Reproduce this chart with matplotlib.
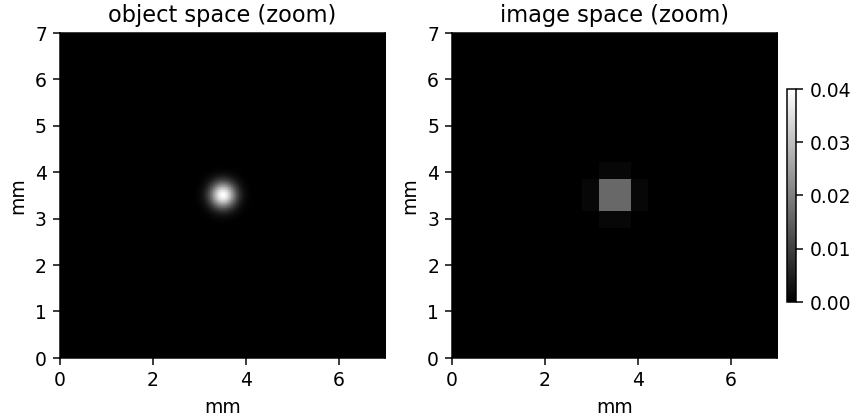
import numpy as np
import matplotlib
matplotlib.use("Agg")
import matplotlib.pyplot as plt

# ---- data ----
titles = ["object space (zoom)", "image space (zoom)"]
axis_label = "mm"
extent_mm = 7.0
ticks = [0, 2, 4, 6]
yticks = [0, 1, 2, 3, 4, 5, 6, 7]
cbar_ticks = [0.00, 0.01, 0.02, 0.03, 0.04]
vmin, vmax = 0.0, 0.04

# object space: a small Gaussian spot
obj_center = (3.5, 3.5)      # mm
obj_sigma = 0.195            # mm
obj_peak = 0.04
obj_pixels = 200             # fine sampling grid

# image space: 20x20 detector pixels (0.35 mm); non-zero 4x4 block at centre
img_pixels = 20
img_block_start = 8
img_block = np.array([
    [0.0001, 0.0012, 0.0012, 0.0001],
    [0.0012, 0.0163, 0.0163, 0.0012],
    [0.0012, 0.0163, 0.0163, 0.0012],
    [0.0001, 0.0012, 0.0012, 0.0001],
])

# ---- build images ----
c = (np.arange(obj_pixels) + 0.5) * extent_mm / obj_pixels
X, Y = np.meshgrid(c, c)
obj = obj_peak * np.exp(-((X - obj_center[0]) ** 2 + (Y - obj_center[1]) ** 2) / (2 * obj_sigma ** 2))

img = np.zeros((img_pixels, img_pixels))
n = img_block.shape[0]
img[img_block_start:img_block_start + n, img_block_start:img_block_start + n] = img_block

# ---- figure ----
dpi = 135
fig = plt.figure(figsize=(856.3 / dpi, 417.3 / dpi), dpi=dpi)
W, H = 856.0, 417.0
ax1 = fig.add_axes([60 / W, (H - 358) / H, 325 / W, 325 / H])
ax2 = fig.add_axes([452 / W, (H - 358) / H, 325 / W, 325 / H])
cax = fig.add_axes([787 / W, (H - 302) / H, 9 / W, 213 / H])

ext = [0, extent_mm, 0, extent_mm]
im1 = ax1.imshow(obj, cmap="gray", vmin=vmin, vmax=vmax, origin="lower", extent=ext)
im2 = ax2.imshow(img, cmap="gray", vmin=vmin, vmax=vmax, origin="lower", extent=ext,
                 interpolation="nearest")

for ax, t in zip([ax1, ax2], titles):
    ax.set_title(t)
    ax.set_xlabel(axis_label)
    ax.set_ylabel(axis_label)
    ax.set_xticks(ticks)
    ax.set_yticks(yticks)

cb = fig.colorbar(im2, cax=cax)
cb.set_ticks(cbar_ticks)
cb.ax.set_yticklabels([f"{v:.2f}" for v in cbar_ticks])

fig.savefig("out.png", dpi=dpi)
